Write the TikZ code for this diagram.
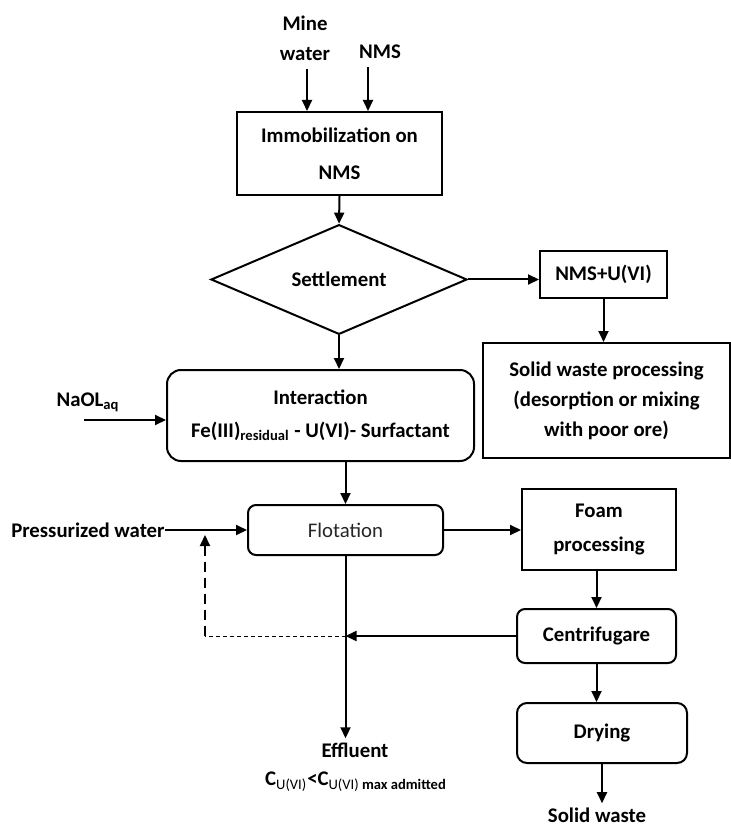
\documentclass[tikz,border=0pt]{standalone}
\usepackage{fontspec}
\setmainfont{Carlito}
\usetikzlibrary{shapes.geometric,arrows.meta}

\begin{document}
\begin{tikzpicture}[x=0.5pt, y=-0.5pt,
  every node/.style={font=\fontsize{10.4}{15}\selectfont\bfseries, align=center},
  procbox/.style={draw, line width=1pt, inner sep=0pt},
  roundbox/.style={procbox, rounded corners=4pt},
  decision/.style={draw, diamond, line width=1pt, inner sep=0pt},
  lbl/.style={inner sep=0pt},
  arr/.style={line width=1pt, -{Triangle[length=5.5pt,width=5pt]}},
  thickdash/.style={line width=1pt, dash pattern=on 5pt off 3pt},
  thindash/.style={line width=0.5pt, dash pattern=on 2pt off 1.5pt},
]
  \useasboundingbox (0,0) rectangle (731,828);

  % process steps
  \node[procbox, minimum width=102.5pt, minimum height=41.5pt] (immob) at (339.5,153.5) {Immobilization on\\[3.5pt] NMS};
  \node[decision, minimum width=128pt, minimum height=50.5pt] (settle) at (339,279.5) {Settlement};
  \node[procbox, minimum width=63.5pt, minimum height=23.5pt] (nmsu) at (603.5,274.5) {NMS+U(VI)};
  \node[procbox, minimum width=123.5pt, minimum height=57.5pt] (solid) at (606.5,400.5) {Solid waste processing\\ (desorption or mixing\\ with poor ore)};
  \node[procbox, rounded corners=7pt, minimum width=153.5pt, minimum height=45.5pt] (inter) at (320.5,415.5) {Interaction\\[1.5pt] Fe(III)\textsubscript{residual} - U(VI)- Surfactant};
  \node[roundbox, minimum width=97.5pt, minimum height=25pt, font=\fontsize{10.4}{15}\selectfont\mdseries, text=black!85] (flot) at (345.5,530) {Flotation};
  \node[procbox, minimum width=77pt, minimum height=40.5pt] (foam) at (599,529.5) {Foam\\[2pt] processing};
  \node[roundbox, minimum width=79.5pt, minimum height=27pt] (centr) at (596.5,636) {Centrifugare};
  \node[roundbox, rounded corners=5pt, minimum width=85pt, minimum height=30pt] (dry) at (602,733) {Drying};

  % inputs and outputs
  \node[lbl] (mine) at (305,38) {Mine\\water};
  \node[lbl] (nmsin) at (380,52) {NMS};
  \node[lbl] (naol) at (88,402) {NaOL\textsubscript{aq}};
  \node[lbl, anchor=east] (press) at (165,530) {Pressurized water};
  \node[lbl] (eff) at (355,750) {Effluent};
  \node[lbl] (climit) at (356,782) {C\textsubscript{\mdseries U(VI)}<C\textsubscript{\mdseries U(VI) \bfseries max admitted}};
  \node[lbl] (solidw) at (597,815) {Solid waste};

  \coordinate (minein) at (307,69);
  \coordinate (nmsfeed) at (368,67);
  \coordinate (naolin) at (84,420);
  \coordinate (fb) at (205,636);

  \draw[arr] (minein) -- (minein |- immob.north);
  \draw[arr] (nmsfeed) -- (nmsfeed |- immob.north);
  \draw[arr] (immob.south) -- (settle.north);
  \draw[arr] (settle.east) -- (settle.east -| nmsu.west);
  \draw[arr] (nmsu.south) -- (nmsu.south |- solid.north);
  \draw[arr] (settle.south) -- (settle.south |- inter.north);
  \draw[arr] (naolin) -- (naolin -| inter.west);
  \draw[arr] (flot.north |- inter.south) -- (flot.north);
  \draw[arr] (press.east) -- (press.east -| flot.west);
  \draw[arr] (flot.east) -- (flot.east -| foam.west);
  \draw[arr] (centr.north |- foam.south) -- (centr.north);
  \draw[arr] (centr.west) -- (centr.west -| flot.south);
  \draw[arr, shorten >=2pt] (flot.south) -- (flot.south |- eff.north);
  \draw[arr] (centr.south) -- (centr.south |- dry.north);
  \draw[arr, shorten >=2pt] (dry.south) -- (dry.south |- solidw.north);

  % recycle of the clarified water
  \draw[thindash] (centr.west -| flot.south) -- (fb);
  \draw[thickdash, arr, shorten >=2.5pt] (fb) -- (fb |- press.east);
\end{tikzpicture}
\end{document}
